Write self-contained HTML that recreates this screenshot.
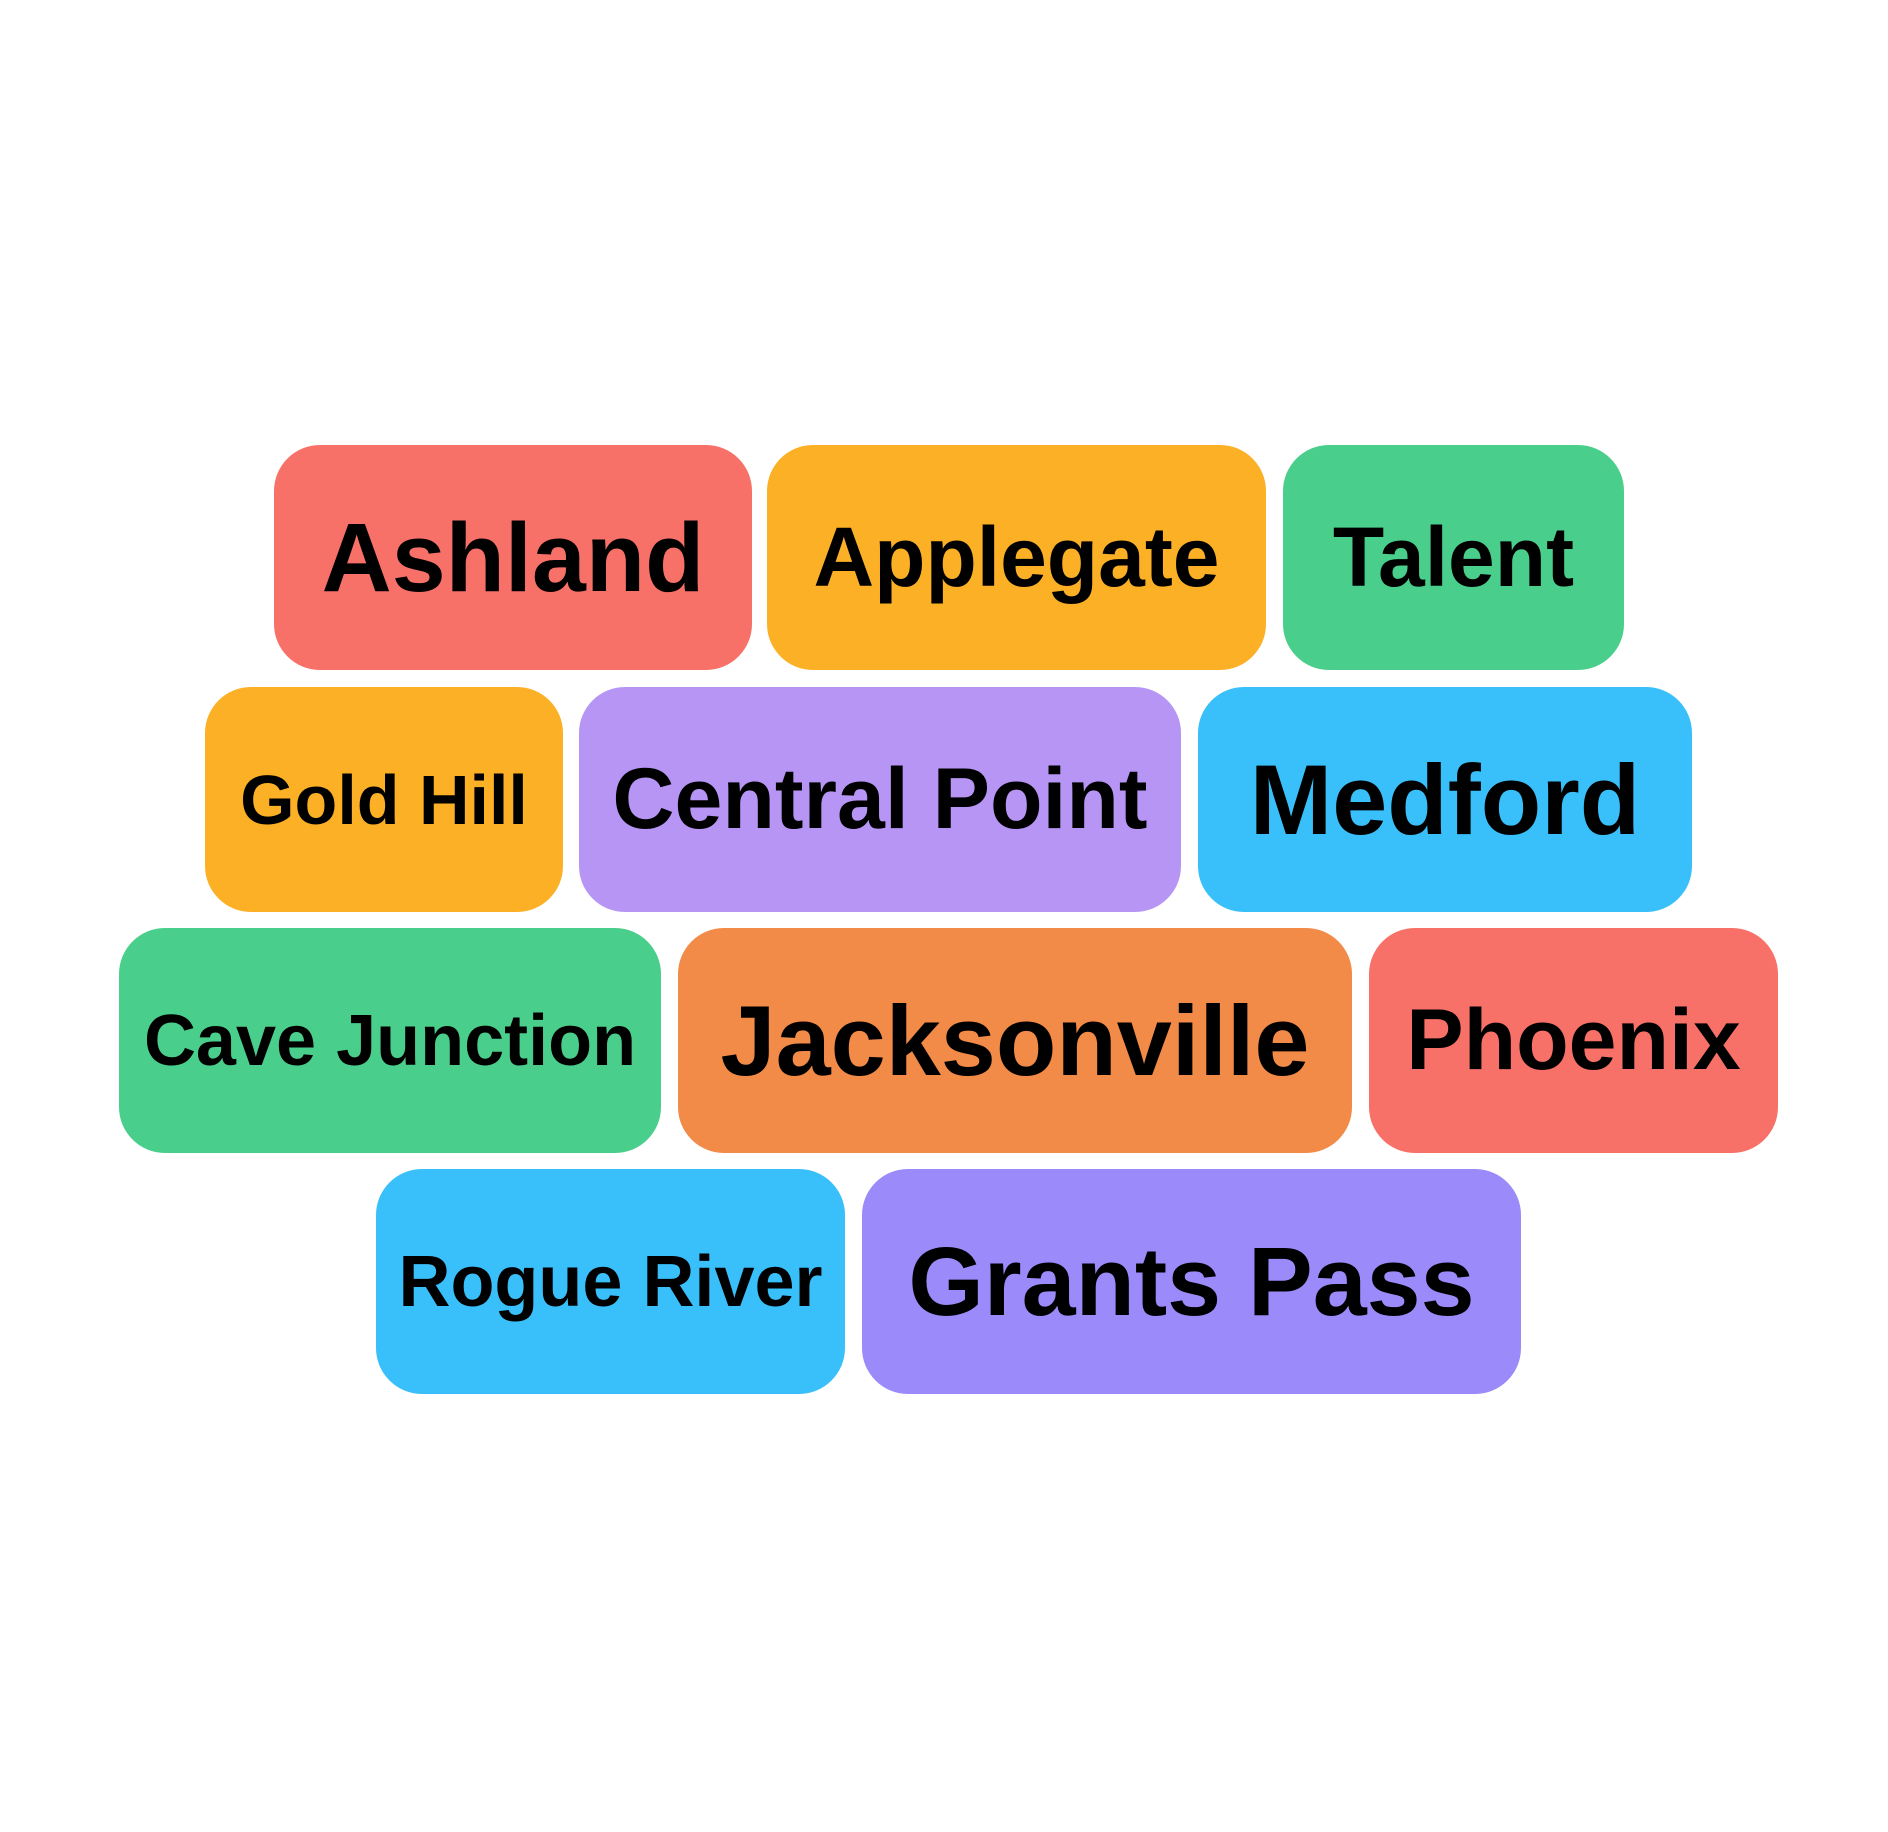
<!DOCTYPE html>
<html><head><meta charset="utf-8"><style>
body{margin:0;width:1888px;height:1832px;background:#fff;position:relative;overflow:hidden;font-family:"Liberation Sans",sans-serif;}
.b{position:absolute;height:225px;border-radius:46px;display:flex;align-items:center;justify-content:center;font-weight:bold;color:#000;white-space:nowrap;}
</style></head><body>
<div class="b" style="left:274px;top:445px;width:478px;background:#f87168;font-size:97px">Ashland</div>
<div class="b" style="left:767px;top:445px;width:499px;background:#fbb026;font-size:84px">Applegate</div>
<div class="b" style="left:1283px;top:445px;width:341px;background:#4ace8b;font-size:84px">Talent</div>
<div class="b" style="left:205px;top:687px;width:358px;background:#fbb026;font-size:70px">Gold Hill</div>
<div class="b" style="left:579px;top:687px;width:602px;background:#b695f5;font-size:86px">Central Point</div>
<div class="b" style="left:1198px;top:687px;width:494px;background:#39c0fa;font-size:99px">Medford</div>
<div class="b" style="left:119px;top:928px;width:542px;background:#4ace8b;font-size:72px">Cave Junction</div>
<div class="b" style="left:678px;top:928px;width:674px;background:#f28a48;font-size:99px">Jacksonville</div>
<div class="b" style="left:1369px;top:928px;width:409px;background:#f87168;font-size:86px">Phoenix</div>
<div class="b" style="left:376px;top:1169px;width:469px;background:#39c0fa;font-size:72px">Rogue River</div>
<div class="b" style="left:862px;top:1169px;width:659px;background:#9b8afa;font-size:97px">Grants Pass</div>
</body></html>
